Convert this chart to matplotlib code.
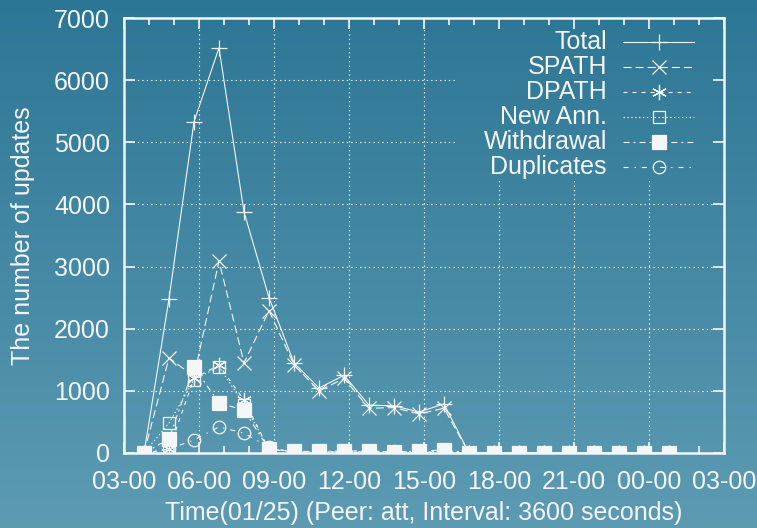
import numpy as np
import matplotlib
matplotlib.use("Agg")
import matplotlib.pyplot as plt

plt.rcParams['font.family'] = ['Liberation Sans', 'DejaVu Sans']
plt.rcParams['lines.scale_dashes'] = False

# heures depuis 03-00 (pas de 3600 s)
heures = [0.8, 1.8, 2.8, 3.8, 4.8, 5.8, 6.8, 7.8, 8.8, 9.8, 10.8,
          11.8, 12.8, 13.8, 14.8, 15.8, 16.8, 17.8, 18.8, 19.8, 20.8, 21.8]

total = [0, 2480, 5330, 6520, 3880, 2500, 1450, 1045, 1250, 770, 760,
         660, 790, 0, 0, 0, 0, 0, 0, 0, 0, 0]
spath = [0, 1530, 1230, 3090, 1450, 2290, 1420, 1000, 1200, 720, 730,
         630, 720, 0, 0, 0, 0, 0, 0, 0, 0, 0]
dpath = [0, 60, 1200, 1415, 850, 60, 20, 15, 20, 15, 15,
         15, 20, 0, 0, 0, 0, 0, 0, 0, 0, 0]
new_ann = [0, 480, 1180, 1390, 780, 70, 20, 15, 20, 15, 15,
           15, 20, 0, 0, 0, 0, 0, 0, 0, 0, 0]
withdrawal = [0, 225, 1385, 805, 690, 60, 25, 25, 35, 30, 20,
              30, 50, 0, 0, 0, 0, 0, 0, 0, 0, 0]
duplicates = [0, 65, 210, 420, 320, 90, 10, 10, 10, 5, 5,
              5, 10, 0, 0, 0, 0, 0, 0, 0, 0, 0]

xtick_pos = [0, 3, 6, 9, 12, 15, 18, 21, 24]
xtick_lbl = ['03-00', '06-00', '09-00', '12-00', '15-00', '18-00', '21-00', '00-00', '03-00']

blanc = '#f4f6f8'
taille = 18

fig = plt.figure(figsize=(7.57, 5.28), dpi=100)

# fond en degrade
bg = fig.add_axes([0, 0, 1, 1], zorder=-10)
grad = np.linspace(0, 1, 256).reshape(-1, 1)
haut = np.array([0x2c, 0x76, 0x95]) / 255
bas = np.array([0x5d, 0x9b, 0xb3]) / 255
img = haut[None, None, :] * (1 - grad[:, :, None]) + bas[None, None, :] * grad[:, :, None]
bg.imshow(img, aspect='auto', extent=[0, 1, 0, 1])
bg.axis('off')

ax = fig.add_axes([124/757, 75/528, 600/757, 435/528])
ax.patch.set_alpha(0)

series = [
    ('Total', total, dict(ls='-', marker='+', ms=12, mfc='none')),
    ('SPATH', spath, dict(dashes=(5.8, 2.9), marker='x', ms=10, mfc='none')),
    ('DPATH', dpath, dict(dashes=(2.9, 3.6), marker=(6, 2, 0), ms=11, mfc='none')),
    ('New Ann.', new_ann, dict(dashes=(1.0, 1.8), marker='s', ms=9, mfc='none')),
    ('Withdrawal', withdrawal, dict(dashes=(4.3, 2.9, 1.4, 2.9), marker='s', ms=10, mfc=blanc)),
    ('Duplicates', duplicates, dict(dashes=(3.6, 4.3, 1.0, 4.3), marker='o', ms=9, mfc='none')),
]

for nom, vals, st in series:
    ax.plot(heures, vals, color=blanc, lw=0.8, mec=blanc, mew=0.9, zorder=3, **st)

ax.set_xlim(0, 24)
ax.set_ylim(0, 7000)

# grille pointillee, interrompue sous la legende
gx0 = 13.3
gy0 = 4400
for y in range(1000, 7000, 1000):
    xmax = gx0 if y > gy0 else 24
    ax.plot([0, xmax], [y, y], color=blanc, lw=0.8, dashes=(1.0, 2.2), zorder=1)
for x in range(3, 24, 3):
    ymax = gy0 if x > gx0 else 7000
    ax.plot([x, x], [0, ymax], color=blanc, lw=0.8, dashes=(1.0, 2.2), zorder=1)

# legende faite a la main
ly = [0.9448, 0.887, 0.8299, 0.772, 0.715, 0.6575]
for (nom, vals, st), y in zip(series, ly):
    ax.text(0.805, y, nom, transform=ax.transAxes, ha='right', va='center',
            color=blanc, fontsize=taille)
    ax.plot([0.832, 0.891, 0.95], [y, y, y], transform=ax.transAxes, color=blanc,
            lw=0.8, mec=blanc, mew=0.9, markevery=[1], clip_on=False, **st)

ax.set_xticks(xtick_pos)
ax.set_xticklabels(xtick_lbl)
ax.set_xticks(range(0, 25), minor=True)
ax.set_yticks(range(0, 7001, 1000))

ax.tick_params(which='both', direction='in', top=True, right=True, colors=blanc,
               labelsize=taille, width=1.2)
ax.tick_params(which='major', length=8, pad=10)
ax.tick_params(axis='x', which='major', pad=12)
ax.tick_params(which='minor', length=5)
for s in ax.spines.values():
    s.set_color(blanc)
    s.set_linewidth(1.8)

ax.set_xlabel('Time(01/25) (Peer: att, Interval: 3600 seconds)', color=blanc,
              fontsize=taille, labelpad=5)
ax.set_ylabel('The number of updates', color=blanc, fontsize=taille, labelpad=14)

fig.savefig('out.png', dpi=100)
